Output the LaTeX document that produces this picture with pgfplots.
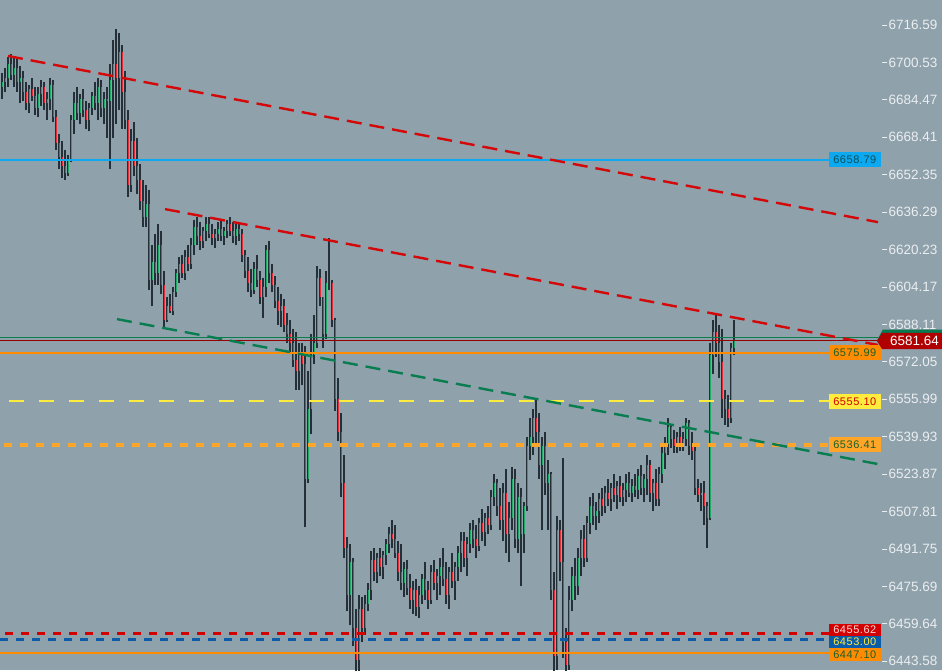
\documentclass[border=0pt]{standalone}
\usepackage{fontspec}
\setmainfont{Liberation Sans}
\newfontfamily\boxfont[LetterSpace=5]{Liberation Sans}
\usepackage{pgfplots}
\usepackage{pgfplotstable}
\pgfplotsset{compat=1.18}
\definecolor{bg}{RGB}{143,161,171}
\definecolor{wick}{RGB}{36,47,56}
\definecolor{cgreen}{RGB}{30,170,100}
\definecolor{cred}{RGB}{228,45,55}
\definecolor{tred}{RGB}{212,8,8}
\definecolor{tgreen}{RGB}{8,125,80}
\definecolor{lblue}{RGB}{12,168,240}
\definecolor{lorange}{RGB}{255,140,0}
\definecolor{lyellow}{RGB}{255,236,60}
\definecolor{dorange}{RGB}{255,166,40}
\definecolor{dred}{RGB}{210,0,0}
\definecolor{dblue}{RGB}{12,92,170}
\definecolor{ticklab}{RGB}{234,238,240}
\definecolor{txtteal}{RGB}{10,80,90}
\definecolor{txtgreen}{RGB}{25,95,45}
\definecolor{pricered}{RGB}{176,0,0}
\definecolor{pricegreen}{RGB}{8,120,78}
\definecolor{linegreen}{RGB}{10,125,75}
\definecolor{linered}{RGB}{150,0,0}

\pgfplotstableread{
i o h l c
0 6690 6696 6685 6692
1 6692 6698 6688 6694
2 6694 6703 6690 6700
3 6700 6704 6693 6695
4 6695 6703 6690 6698
5 6698 6702 6688 6692
6 6692 6699 6683 6694
7 6694 6697 6684 6688
8 6688 6692 6680 6683
9 6683 6691 6679 6689
10 6689 6694 6684 6686
11 6686 6690 6678 6681
12 6681 6690 6677 6687
13 6687 6693 6682 6690
14 6690 6692 6680 6683
15 6683 6688 6676 6685
16 6685 6694 6680 6691
17 6691 6693 6675 6677
18 6677 6680 6663 6666
19 6666 6670 6655 6660
20 6660 6667 6651 6656
21 6656 6663 6650 6653
22 6653 6661 6652 6659
23 6659 6678 6658 6676
24 6676 6688 6670 6683
25 6683 6690 6676 6679
26 6679 6687 6674 6685
27 6685 6689 6677 6680
28 6680 6684 6672 6676
29 6676 6683 6671 6681
30 6681 6688 6678 6686
31 6686 6692 6680 6683
32 6683 6694 6676 6690
33 6690 6693 6677 6681
34 6681 6688 6674 6685
35 6685 6690 6668 6684
36 6684 6700 6655 6693
37 6693 6710 6668 6700
38 6700 6715 6674 6694
39 6694 6713 6680 6705
40 6705 6708 6672 6688
41 6688 6697 6672 6676
42 6676 6680 6643 6648
43 6648 6672 6645 6667
44 6667 6675 6652 6656
45 6656 6668 6644 6650
46 6650 6657 6637 6641
47 6641 6650 6630 6634
48 6634 6648 6630 6640
49 6640 6646 6603 6607
50 6607 6622 6596 6615
51 6615 6627 6605 6610
52 6610 6631 6605 6622
53 6622 6628 6601 6605
54 6605 6611 6586 6590
55 6590 6600 6589 6596
56 6596 6601 6593 6594
57 6594 6604 6592 6602
58 6602 6612 6600 6610
59 6610 6617 6606 6614
60 6614 6618 6608 6610
61 6610 6620 6607 6617
62 6617 6622 6611 6614
63 6614 6625 6612 6622
64 6622 6633 6618 6630
65 6630 6634 6622 6626
66 6626 6632 6620 6624
67 6624 6630 6621 6628
68 6628 6634 6624 6631
69 6631 6634 6625 6627
70 6627 6631 6622 6625
71 6625 6629 6621 6627
72 6627 6632 6624 6629
73 6629 6633 6624 6626
74 6626 6630 6622 6628
75 6628 6633 6625 6631
76 6631 6634 6626 6628
77 6628 6632 6623 6626
78 6626 6631 6622 6629
79 6629 6632 6624 6627
80 6627 6629 6615 6618
81 6618 6620 6608 6611
82 6611 6617 6602 6606
83 6606 6612 6600 6603
84 6603 6615 6601 6612
85 6612 6618 6604 6607
86 6607 6611 6597 6600
87 6600 6608 6591 6604
88 6604 6622 6600 6620
89 6620 6624 6606 6610
90 6610 6614 6602 6605
91 6605 6609 6595 6598
92 6598 6604 6588 6594
93 6594 6601 6587 6596
94 6596 6599 6585 6588
95 6588 6593 6580 6584
96 6584 6590 6576 6580
97 6580 6586 6570 6573
98 6573 6585 6560 6568
99 6568 6580 6560 6576
100 6576 6580 6562 6571
101 6571 6579 6501 6522
102 6522 6568 6520 6552
103 6552 6584 6541 6575
104 6575 6592 6571 6580
105 6580 6613 6578 6608
106 6608 6612 6596 6600
107 6600 6600 6578 6584
108 6584 6611 6582 6606
109 6606 6625 6603 6606
110 6606 6607 6587 6590
111 6590 6591 6551 6556
112 6556 6565 6538 6542
113 6542 6550 6514 6520
114 6520 6532 6488 6492
115 6492 6497 6465 6472
116 6472 6494 6459 6486
117 6486 6488 6450 6458
118 6458 6466 6436 6444
119 6444 6472 6436 6466
120 6466 6471 6452 6458
121 6458 6472 6455 6468
122 6468 6477 6465 6474
123 6474 6491 6470 6487
124 6487 6492 6478 6482
125 6482 6490 6477 6488
126 6488 6492 6480 6484
127 6484 6491 6479 6489
128 6489 6496 6485 6494
129 6494 6501 6490 6498
130 6498 6504 6492 6496
131 6496 6502 6488 6490
132 6490 6495 6478 6482
133 6482 6494 6474 6477
134 6477 6486 6471 6483
135 6483 6487 6472 6475
136 6475 6481 6466 6470
137 6470 6478 6464 6474
138 6474 6479 6463 6467
139 6467 6476 6462 6472
140 6472 6481 6468 6479
141 6479 6486 6470 6474
142 6474 6478 6466 6470
143 6470 6485 6468 6482
144 6482 6487 6474 6477
145 6477 6483 6470 6480
146 6480 6488 6472 6484
147 6484 6492 6476 6479
148 6479 6486 6468 6472
149 6472 6484 6466 6482
150 6482 6490 6475 6478
151 6478 6486 6470 6484
152 6484 6493 6478 6490
153 6490 6499 6482 6495
154 6495 6499 6484 6488
155 6488 6497 6480 6494
156 6494 6503 6490 6500
157 6500 6504 6492 6496
158 6496 6502 6488 6493
159 6493 6505 6491 6503
160 6503 6509 6495 6499
161 6499 6507 6493 6505
162 6505 6510 6498 6502
163 6502 6517 6500 6514
164 6514 6524 6510 6520
165 6520 6522 6506 6510
166 6510 6518 6500 6504
167 6504 6520 6495 6516
168 6516 6526 6490 6498
169 6498 6512 6486 6505
170 6505 6527 6500 6522
171 6522 6526 6492 6496
172 6496 6520 6490 6514
173 6514 6518 6476 6498
174 6498 6512 6490 6510
175 6510 6540 6508 6536
176 6536 6548 6530 6540
177 6540 6552 6532 6548
178 6548 6556 6536 6542
179 6542 6550 6522 6528
180 6528 6540 6500 6536
181 6536 6542 6515 6520
182 6520 6530 6500 6524
183 6524 6525 6470 6474
184 6474 6482 6436 6446
185 6446 6506 6440 6500
186 6500 6504 6478 6486
187 6486 6531 6445 6452
188 6452 6458 6436 6442
189 6442 6476 6440 6470
190 6470 6484 6465 6480
191 6480 6488 6470 6476
192 6476 6492 6472 6488
193 6488 6500 6480 6496
194 6496 6502 6484 6488
195 6488 6506 6486 6503
196 6503 6514 6498 6510
197 6510 6516 6502 6506
198 6506 6512 6500 6508
199 6508 6516 6503 6513
200 6513 6518 6506 6510
201 6510 6519 6507 6516
202 6516 6522 6510 6513
203 6513 6520 6508 6518
204 6518 6524 6512 6515
205 6515 6521 6509 6519
206 6519 6523 6512 6514
207 6514 6520 6510 6517
208 6517 6524 6512 6520
209 6520 6525 6514 6516
210 6516 6522 6512 6519
211 6519 6524 6514 6517
212 6517 6526 6513 6523
213 6523 6528 6515 6518
214 6518 6524 6512 6522
215 6522 6532 6515 6528
216 6528 6530 6512 6516
217 6516 6522 6508 6520
218 6520 6526 6510 6513
219 6513 6527 6510 6524
220 6524 6536 6520 6533
221 6533 6540 6526 6537
222 6537 6548 6532 6544
223 6544 6545 6535 6539
224 6539 6543 6533 6536
225 6536 6542 6533 6540
226 6540 6544 6534 6537
227 6537 6542 6534 6539
228 6539 6548 6536 6546
229 6546 6547 6532 6536
230 6536 6542 6530 6534
231 6534 6537 6515 6518
232 6518 6522 6512 6515
233 6515 6520 6508 6516
234 6516 6521 6502 6510
235 6510 6512 6492 6505
236 6505 6580 6504 6575
237 6575 6590 6567 6585
238 6585 6593 6574 6580
239 6580 6588 6565 6572
240 6572 6586 6548 6556
241 6556 6560 6545 6552
242 6552 6558 6544 6548
243 6548 6580 6546 6578
244 6578 6590 6575 6581.64
}\candles

\begin{document}
\begin{tikzpicture}
\fill[bg] (0,0) rectangle (942pt,670pt);
\begin{axis}[
  anchor=south west, at={(0pt,0pt)},
  scale only axis, width=882pt, height=670pt,
  xmin=-0.6667, xmax=293.3333,
  ymin=6439.84, ymax=6727.32,
  axis background/.style={fill=none},
  axis line style={draw=none},
  clip mode=individual,
  xtick=\empty,
  ytick pos=right, yticklabel pos=right,
  ytick={6716.59,6700.53,6684.47,6668.41,6652.35,6636.29,6620.23,6604.17,6588.11,6572.05,6555.99,6539.93,6523.87,6507.81,6491.75,6475.69,6459.64,6443.58},
  yticklabels={6716.59,6700.53,6684.47,6668.41,6652.35,6636.29,6620.23,6604.17,6588.11,6572.05,6555.99,6539.93,6523.87,6507.81,6491.75,6475.69,6459.64,6443.58},
  tick align=outside, major tick length=5pt,
  tick style={draw=ticklab, line width=1pt},
  yticklabel style={font=\fontsize{13.5}{13.5}\selectfont, text=ticklab, anchor=west, xshift=1.5pt, inner sep=0pt},
]
% wicks
\addplot[draw=none, mark=none, forget plot,
  error bars/.cd, y dir=plus, y explicit, error mark=none,
  error bar style={line width=1.5pt, draw=wick, solid}]
  table[x=i, y=l, y error expr=\thisrow{h}-\thisrow{l}] {\candles};
% up bodies
\addplot[draw=none, mark=none, forget plot,
  restrict expr to domain={\thisrow{c}-\thisrow{o}}{0:1000},
  error bars/.cd, y dir=plus, y explicit, error mark=none,
  error bar style={line width=1.0pt, draw=cgreen, solid}]
  table[x=i, y=o, y error expr=\thisrow{c}-\thisrow{o}] {\candles};
% down bodies
\addplot[draw=none, mark=none, forget plot,
  restrict expr to domain={\thisrow{c}-\thisrow{o}}{-1000:-0.0001},
  error bars/.cd, y dir=plus, y explicit, error mark=none,
  error bar style={line width=1.0pt, draw=cred, solid}]
  table[x=i, y=c, y error expr=\thisrow{o}-\thisrow{c}] {\candles};

% horizontal levels
\addplot[lblue, line width=2.2pt] coordinates {(-0.6667,6658.79) (276,6658.79)};
\addplot[linegreen, line width=1pt] coordinates {(-0.6667,6582.5) (292,6582.5)};
\addplot[linered, line width=0.8pt] coordinates {(-0.6667,6581.2) (292,6581.2)};
\addplot[lorange, line width=2pt] coordinates {(-0.6667,6575.99) (276,6575.99)};
\addplot[lyellow, line width=2pt, dash pattern=on 15pt off 15pt, dash phase=-9pt] coordinates {(-0.6667,6555.10) (276,6555.10)};
\addplot[dorange, line width=3.5pt, dash pattern=on 8pt off 8pt, dash phase=-4pt] coordinates {(-0.6667,6536.41) (276,6536.41)};
\addplot[dred, line width=3pt, dash pattern=on 8pt off 8pt, dash phase=-5pt] coordinates {(-0.6667,6455.62) (276,6455.62)};
\addplot[dblue, line width=3pt, dash pattern=on 8pt off 8pt, dash phase=0pt] coordinates {(-0.6667,6453.00) (276,6453.00)};
\addplot[lorange, line width=2pt] coordinates {(-0.6667,6447.10) (276,6447.10)};

% trend lines
\addplot[tred, line width=2.4pt, dash pattern=on 15pt off 8pt] coordinates {(2,6703.3) (292,6632.0)};
\addplot[tred, line width=2.4pt, dash pattern=on 15pt off 8pt] coordinates {(54.33,6637.6) (292,6579.3)};
\addplot[tgreen, line width=2.4pt, dash pattern=on 15pt off 8pt] coordinates {(38.33,6590.4) (292,6528.2)};

% level labels
\tikzset{lvl/.style={anchor=east, minimum width=52pt, minimum height=15pt, inner sep=0pt, font=\boxfont\fontsize{11}{11}\selectfont}}
\node[lvl, fill=lblue, text=txtteal] at (axis cs:293,6658.79) {6658.79};
\node[lvl, fill=lorange, text=txtgreen] at (axis cs:293,6575.99) {6575.99};
\node[lvl, fill=lyellow, text=dred] at (axis cs:293,6555.10) {6555.10};
\node[lvl, fill=dorange, text=txtgreen] at (axis cs:293,6536.41) {6536.41};
\node[lvl, fill=dred, text=white!85!red, minimum height=12pt] at (axis cs:293,6457.0) {6455.62};
\node[lvl, fill=dblue, text=lyellow, minimum height=12pt] at (axis cs:293,6451.8) {6453.00};
\node[lvl, fill=lorange, text=txtgreen, minimum height=13pt] at (axis cs:293,6446.3) {6447.10};

% current price label
\fill[pricegreen] (axis cs:291.667,6581.3) -- (axis cs:293.6,6585.9) -- (axis cs:313.5,6585.9) -- (axis cs:313.5,6584.0) -- cycle;
\fill[pricered] (axis cs:291.667,6581.0) -- (axis cs:293.333,6584.44) -- (axis cs:313.5,6584.44) -- (axis cs:313.5,6577.57) -- (axis cs:293.333,6577.57) -- cycle;
\node[text=white, font=\fontsize{13.5}{13.5}\selectfont, inner sep=0pt] at (axis cs:304.2,6581.0) {6581.64};
\end{axis}
\pgfresetboundingbox
\useasboundingbox (0,0) rectangle (942pt,670pt);
\end{tikzpicture}
\end{document}
